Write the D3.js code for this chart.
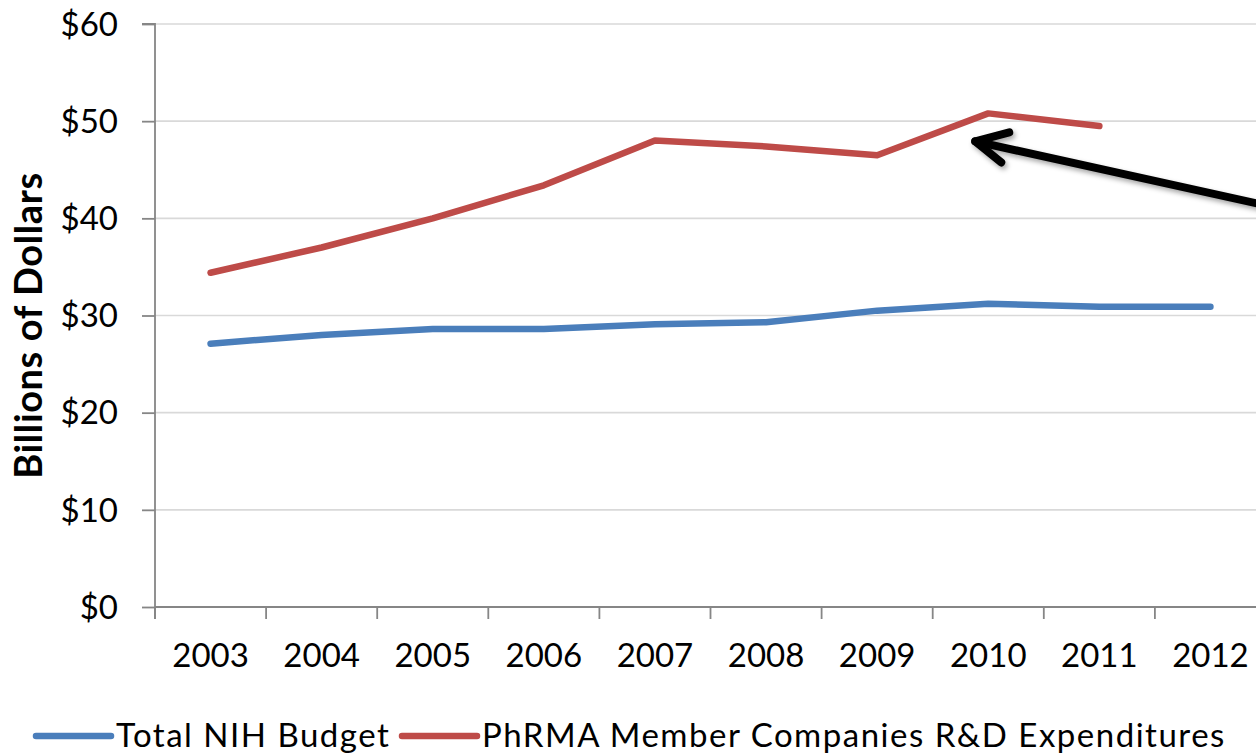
<!DOCTYPE html>
<html>
<head>
<meta charset="utf-8">
<script src="https://cdn.jsdelivr.net/npm/d3@7"></script>
<style>
  html, body { margin: 0; padding: 0; background: #fff; }
  svg { display: block; }
  text { font-family: Lato, "Open Sans", sans-serif; fill: #000; }
</style>
</head>
<body>
<svg id="chart" width="1256" height="753"></svg>
<script>
// Years on the category axis
const years = ["2003", "2004", "2005", "2006", "2007", "2008", "2009", "2010", "2011", "2012"];
// Billions of dollars
const nihBudget = [27.1, 28.0, 28.6, 28.6, 29.1, 29.3, 30.5, 31.2, 30.9, 30.9];
const phrmaRD = [34.4, 37.0, 40.0, 43.4, 48.0, 47.4, 46.5, 50.8, 49.5, null];
const yTicks = [0, 10, 20, 30, 40, 50, 60];
const seriesNames = ["Total NIH Budget", "PhRMA Member Companies R&D Expenditures"];
const seriesColors = ["#4a7ebb", "#be4b48"];

const svg = d3.select("#chart");
const W = 1256, H = 753;
const plot = { left: 155, right: 1266, top: 24, bottom: 607 };

const x = d3.scaleBand().domain(years).range([plot.left, plot.right]).padding(0);
const y = d3.scaleLinear().domain([0, 60]).range([plot.bottom, plot.top]);

// horizontal gridlines
svg.append("g")
  .selectAll("line")
  .data(yTicks.filter(d => d > 0))
  .join("line")
  .attr("x1", plot.left).attr("x2", plot.right)
  .attr("y1", d => y(d)).attr("y2", d => y(d))
  .attr("stroke", "#d9d9d9").attr("stroke-width", 1.6);

// y axis
const yAxis = svg.append("g")
  .attr("transform", `translate(${plot.left},0)`)
  .call(d3.axisLeft(y).tickValues(yTicks).tickSize(13).tickPadding(24)
    .tickFormat(d => "$" + d));
yAxis.select(".domain").attr("stroke", "#868686").attr("stroke-width", 1.8)
  .attr("d", `M-13,${plot.top}H0V${plot.bottom + 12}`);
yAxis.selectAll(".tick line").attr("stroke", "#868686").attr("stroke-width", 1.8);
yAxis.selectAll(".tick text").style("font-size", "33px").attr("dy", "0.34em");

// x axis: labels centred in each band, tick marks on band edges
const xAxis = svg.append("g")
  .attr("transform", `translate(0,${plot.bottom})`)
  .call(d3.axisBottom(x).tickSize(0).tickPadding(37));
xAxis.select(".domain").attr("stroke", "#868686").attr("stroke-width", 1.8)
  .attr("d", `M${plot.left},0H${plot.right}`);
xAxis.selectAll(".tick text").style("font-size", "33px");
xAxis.append("g")
  .selectAll("line")
  .data(years.map(d => x(d)).concat([x(years[years.length - 1]) + x.bandwidth()]))
  .join("line")
  .attr("x1", d => d).attr("x2", d => d)
  .attr("y1", 0).attr("y2", 12)
  .attr("stroke", "#868686").attr("stroke-width", 1.8);

// y axis title
svg.append("text")
  .attr("transform", `translate(42,${(y(0) + y(60)) / 2 + 10}) rotate(-90)`)
  .attr("text-anchor", "middle")
  .style("font-size", "38px").style("font-weight", "bold")
  .style("letter-spacing", "0.6px")
  .text("Billions of Dollars");

// series lines
const line = d3.line()
  .defined(d => d.v != null)
  .x(d => x(d.year) + x.bandwidth() / 2)
  .y(d => y(d.v));

[nihBudget, phrmaRD].forEach((vals, i) => {
  svg.append("path")
    .datum(years.map((yr, j) => ({ year: yr, v: vals[j] })))
    .attr("fill", "none")
    .attr("stroke", seriesColors[i])
    .attr("stroke-width", 6.5)
    .attr("stroke-linejoin", "round")
    .attr("stroke-linecap", "round")
    .attr("d", line);
});

// callout arrow pointing at the 2010 R&D peak
const defs = svg.append("defs");
const f = defs.append("filter").attr("id", "shadow").attr("x", "-20%").attr("y", "-20%")
  .attr("width", "140%").attr("height", "140%");
f.append("feDropShadow").attr("dx", 2).attr("dy", 3).attr("stdDeviation", 2.5)
  .attr("flood-color", "#000").attr("flood-opacity", 0.35);

const tip = [x("2010") + x.bandwidth() / 2 - 13, y(50.8) + 28];
const arrow = svg.append("g").attr("filter", "url(#shadow)")
  .attr("stroke", "#000").attr("stroke-width", 8).attr("fill", "none")
  .attr("stroke-linecap", "round").attr("stroke-linejoin", "round");
arrow.append("path").attr("d", `M${tip[0]},${tip[1]}L${W + 60},${tip[1] + 75}`);
arrow.append("path").attr("d",
  `M${tip[0] + 34},${tip[1] - 9}L${tip[0]},${tip[1]}L${tip[0] + 26},${tip[1] + 21}`);

// legend
const legend = svg.append("g").attr("transform", `translate(0,736)`);
const lx = [36, 402];
seriesNames.forEach((name, i) => {
  legend.append("line")
    .attr("x1", lx[i]).attr("x2", lx[i] + 75)
    .attr("stroke", seriesColors[i]).attr("stroke-width", 6.5)
    .attr("stroke-linecap", "round");
  legend.append("text")
    .attr("x", lx[i] + 80).attr("dy", "0.34em")
    .style("font-size", "33px")
    .style("letter-spacing", "1.5px")
    .text(name);
});
</script>
</body>
</html>
